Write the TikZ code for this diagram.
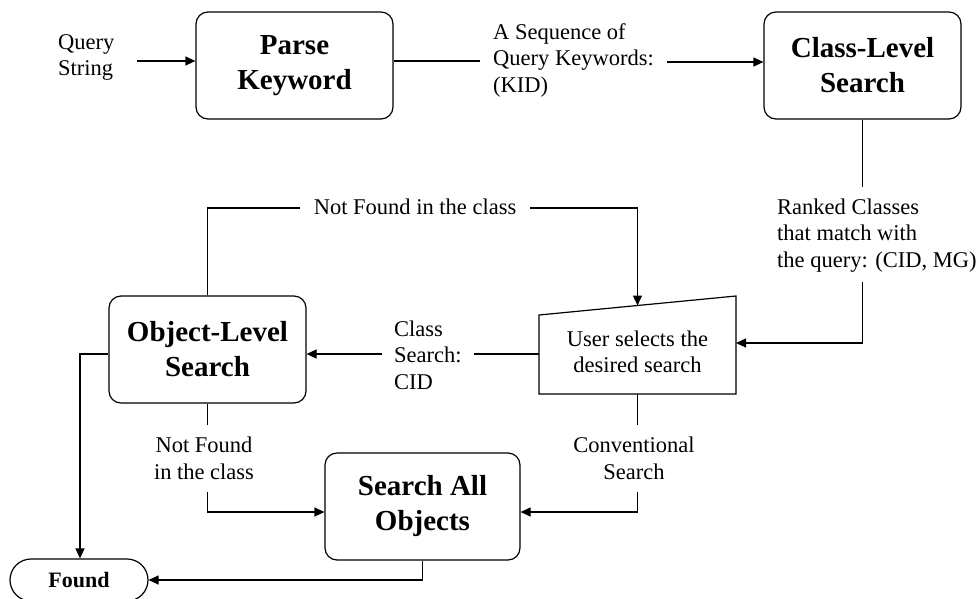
\documentclass[tikz,border=0pt]{standalone}
\usepackage{fontspec}
\setmainfont{Liberation Serif}
\usetikzlibrary{arrows.meta,calc}
\begin{document}
\begin{tikzpicture}[x=1pt,y=-1pt,
  box/.style={draw, line width=1.2pt, rounded corners=12pt, minimum width=197pt, minimum height=107pt, align=center, font=\fontsize{29}{35}\selectfont\bfseries, inner sep=0pt},
  lbl/.style={align=left, font=\fontsize{22.5}{26.5}\selectfont, inner sep=0pt},
  ln/.style={line width=1.2pt},
  arr/.style={ln, -{Triangle[length=10pt,width=9pt]}}]
\useasboundingbox (0,0) rectangle (980,598);

% boxes
\node[box] (parse) at (294.5,65.5) {Parse\\Keyword};
\node[box] (class) at (862.5,65.5) {Class-Level\\Search};
\node[box] (obj) at (207.5,349.5) {Object-Level\\Search};
\node[box, minimum width=195pt] (sao) at (422.5,506.5) {Search All\\Objects};
\node[draw, ln, rounded corners=21pt, minimum width=138pt, minimum height=42pt, inner sep=0pt, font=\fontsize{22}{26}\selectfont\bfseries] (found) at (79,580) {Found};

% manual input shape
\coordinate (uTL) at (539,315);
\coordinate (uTR) at (736,296);
\coordinate (uBR) at (736,394);
\coordinate (uBL) at (539,394);
\draw[ln] (uTL) -- (uTR) -- (uBR) -- (uBL) -- cycle;
\node[lbl, align=center] (user) at (637.5,352) {User selects the\\desired search};
\coordinate (uTop) at ($(uTL)!0.5!(uTR)$);
\coordinate (uBot) at ($(uBL)!0.5!(uBR)$);

% labels
\node[lbl, anchor=west] (qs) at (58,57.5) {Query\\String};
\node[lbl, anchor=west] (seq) at (493,60) {A Sequence of\\Query Keywords:\\(KID)};
\node[lbl, anchor=west] (ranked) at (777,235.5) {Ranked Classes\\that match with\\the query: (CID, MG)};
\node[lbl] (nf1) at (415,207) {Not Found in the class};
\node[lbl, anchor=west] (csc) at (394,355) {Class\\Search:\\CID};
\node[lbl, align=center] (nf2) at (204,458.5) {Not Found\\in the class};
\node[lbl, align=center] (conv) at (634,458.5) {Conventional\\Search};

% connectors
\coordinate (qsend) at (137,61);
\draw[arr] (qsend) -- (qsend -| parse.west);
\coordinate (a1) at (480,61);
\draw[ln] (a1 -| parse.east) -- (a1);
\coordinate (a2) at (667,62);
\draw[arr] (a2) -- (a2 -| class.west);

\coordinate (r1) at (862.5,187);
\draw[ln] (class.south) -- (r1);
\coordinate (r2) at (862.5,282);
\coordinate (r3) at (736,343);
\draw[arr] (r2) |- (r3);

\coordinate (t1) at (300,208);
\draw[ln] (obj.north) |- (t1);
\coordinate (t2) at (530,208);
\draw[arr] (t2) -| (uTop);

\coordinate (c1) at (474,354);
\draw[ln] (c1 -| uTL) -- (c1);
\coordinate (c2) at (382,354);
\draw[arr] (c2) -- (c2 -| obj.east);

\coordinate (f1) at (80,354);
\draw[arr] (f1 -| obj.west) -- (f1) -- (f1 |- found.north);

\coordinate (n1) at (207.5,425);
\draw[ln] (obj.south) -- (n1);
\coordinate (n2) at (207.5,492);
\coordinate (n3) at (0,512);
\draw[arr] (n2) |- (n3 -| sao.west);

\coordinate (k1) at (637.5,425);
\draw[ln] (uBot) -- (k1);
\coordinate (k2) at (637.5,492);
\draw[arr] (k2) |- (n3 -| sao.east);

\draw[arr] (sao.south) |- (found.east);
\end{tikzpicture}
\end{document}
